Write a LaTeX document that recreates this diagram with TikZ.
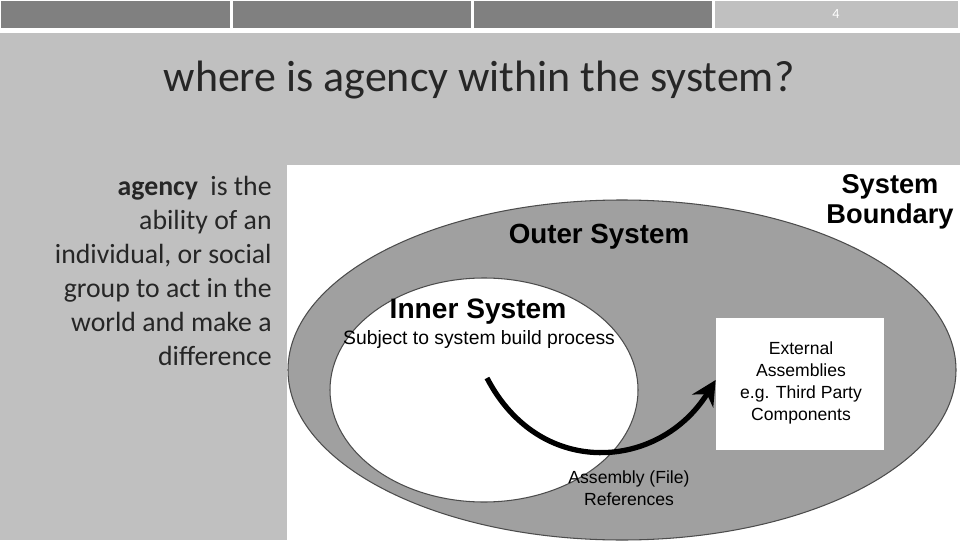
\documentclass[tikz,border=0pt]{standalone}
\usepackage{fontspec}
\setmainfont{Carlito}
\newfontfamily\diagfont{Liberation Sans}
\usetikzlibrary{arrows.meta}
\definecolor{slidebg}{RGB}{192,192,192}
\definecolor{tabdark}{RGB}{128,128,128}
\definecolor{outerfill}{RGB}{160,160,160}
\tikzset{
  tab/.style={fill=tabdark, draw=none},
  diaglabel/.style={font=\diagfont\bfseries\fontsize{15.8}{17}\selectfont, inner sep=0pt},
  diagsmall/.style={font=\diagfont\fontsize{10}{12.5}\selectfont, align=center, inner sep=0pt}
}
\begin{document}
\begin{tikzpicture}[x=0.02cm, y=-0.02cm]
  % slide
  \fill[white] (0,0) rectangle (960,540);
  \fill[slidebg] (0,33) rectangle (960,540);
  \fill[tab] (1,1) rectangle (230,28);
  \fill[tab] (233,1) rectangle (471,28);
  \fill[tab] (474,1) rectangle (712,28);
  \fill[slidebg] (715,1) rectangle (958,28);
  \node[text=white, font=\fontsize{8}{10}\selectfont] (page) at (836,14) {4};
  \node[font=\fontsize{25}{28}\selectfont, text=black!85] (title) at (479,80) {where is agency within the system?};
  \node[anchor=north east, align=right, font=\fontsize{15.8}{19.3}\selectfont, inner sep=0pt, text=black!85] (def) at (272,176)
    {\textbf{agency}\ \ is the\\ability of an\\individual, or social\\group to act in the\\world and make a\\difference};
  % diagram
  \fill[white] (287,165) rectangle (960,540);
  \fill[outerfill, draw=black!70, line width=0.6pt] (622,370) ellipse [x radius=334, y radius=170];
  \fill[white, draw=black!70, line width=0.6pt] (484,390) ellipse [x radius=154, y radius=112];
  \node[fill=white, minimum width=168*0.02cm, minimum height=132*0.02cm, inner sep=0pt] (ext) at (800,384) {};
  \node[diagsmall] (extlabel) at (801,383) {External\\Assemblies\\e.g. Third Party\\Components};
  \node[diaglabel, align=center, font=\diagfont\bfseries\fontsize{15.5}{17}\selectfont] (boundary) at (890,202) {System\\Boundary};
  \node[diaglabel] (outer) at (599,237) {Outer System};
  \node[diaglabel, font=\diagfont\bfseries\fontsize{16}{18}\selectfont] (inner) at (478,312) {Inner System};
  \node[diagsmall, font=\diagfont\fontsize{11}{13}\selectfont] (subject) at (479,340) {Subject to system build process};
  \node[diagsmall] (refs) at (629,488) {Assembly (File)\\References};
  \coordinate (start) at (487,378);
  \draw[line width=3pt, -{Stealth[length=14pt,width=14pt]}] (start) .. controls (540,480) and (660,470) .. (ext.west |- 0,380);
\end{tikzpicture}
\end{document}
